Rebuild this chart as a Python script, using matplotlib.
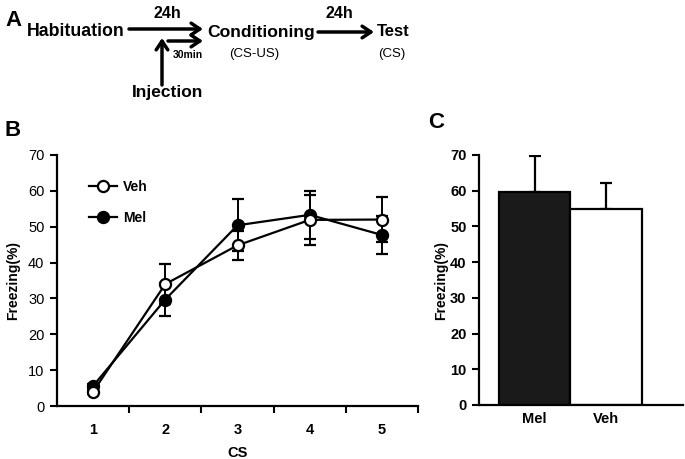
import matplotlib.pyplot as plt
from matplotlib.patches import FancyArrowPatch
from matplotlib.lines import Line2D
import numpy as np

plt.rcParams['font.family'] = ['Liberation Sans', 'DejaVu Sans']

# panel B data
cs = [1, 2, 3, 4, 5]
veh = [4.0, 34.0, 44.8, 51.9, 52.0]
veh_err = [0.6, 5.5, 4.1, 7.0, 6.2]
mel = [5.6, 29.7, 50.4, 53.3, 47.7]
mel_err = [0.6, 4.6, 7.2, 6.7, 5.4]

# panel C data
groups = ["Mel", "Veh"]
test_vals = [59.7, 54.9]
test_err = [10.0, 7.3]
bar_colors = ["#1a1a1a", "white"]

fig = plt.figure(figsize=(6.85, 4.59), dpi=100)
W, H = 685.0, 459.0

def fx(x):
    return x / W

def fy(y):
    return 1 - y / H

# ---- panel A: timeline ----
fig.text(fx(5), fy(20), "A", fontsize=16, fontweight='bold', va='center', ha='left')
fig.text(fx(27), fy(32), "Habituation", fontsize=12.8, fontweight='bold', va='center', ha='left')
fig.text(fx(167), fy(13), "24h", fontsize=11.5, fontweight='bold', va='center', ha='center')
fig.text(fx(207), fy(32), "Conditioning", fontsize=12.6, fontweight='bold', va='center', ha='left')
fig.text(fx(254), fy(54), "(CS-US)", fontsize=9.5, va='center', ha='center')
fig.text(fx(339), fy(13), "24h", fontsize=11.5, fontweight='bold', va='center', ha='center')
fig.text(fx(377), fy(32), "Test", fontsize=12, fontweight='bold', va='center', ha='left')
fig.text(fx(392), fy(54), "(CS)", fontsize=9.5, va='center', ha='center')
fig.text(fx(188), fy(55), "30min", fontsize=7.5, fontweight='bold', va='center', ha='center')
fig.text(fx(168), fy(93), "Injection", fontsize=12.5, fontweight='bold', va='center', ha='center')

arrow = dict(arrowstyle='->,head_length=0.45,head_width=0.3', lw=2.5, color='black',
             shrinkA=0, shrinkB=0, mutation_scale=14, transform=fig.transFigure)
fig.add_artist(FancyArrowPatch((fx(129), fy(29)), (fx(203), fy(29)), **arrow))
fig.add_artist(FancyArrowPatch((fx(168), fy(41)), (fx(203), fy(41)), **arrow))
fig.add_artist(FancyArrowPatch((fx(162), fy(85)), (fx(162), fy(38)), **arrow))
fig.add_artist(FancyArrowPatch((fx(318), fy(32)), (fx(374), fy(32)), **arrow))

# ---- panel B ----
axB = fig.add_axes([fx(57), fy(406), fx(418) - fx(57), fy(155) - fy(406)])
axB.errorbar(cs, veh, yerr=veh_err, color='black', lw=1.6, capsize=4, capthick=1.5,
             elinewidth=1.4, marker='o', ms=8, mfc='white', mec='black', mew=1.6,
             zorder=3)
axB.errorbar(cs, mel, yerr=mel_err, color='black', lw=1.6, capsize=4, capthick=1.5,
             elinewidth=1.4, marker='o', ms=8, mfc='black', mec='black', mew=1.6,
             zorder=2)
axB.set_xlim(0.5, 5.5)
axB.set_ylim(0, 70)
axB.set_yticks(np.arange(0, 71, 10))
axB.set_xticks(cs)
axB.set_xticks([1.5, 2.5, 3.5, 4.5, 5.5], minor=True)
axB.tick_params(axis='x', which='major', length=0, pad=12, labelsize=10.5)
axB.tick_params(axis='x', which='minor', length=5, width=1.5, direction='out')
axB.tick_params(axis='y', length=5, width=1.5, direction='out', labelsize=10.5, pad=4)
for lab in axB.get_xticklabels():
    lab.set_fontweight('bold')
for s in ['top', 'right']:
    axB.spines[s].set_visible(False)
for s in ['left', 'bottom']:
    axB.spines[s].set_linewidth(1.6)
axB.set_xlabel("CS", fontsize=10.5, fontweight='bold', labelpad=7)
axB.set_ylabel("Freezing(%)", fontsize=10, fontweight='bold', labelpad=6)
handles = [
    Line2D([], [], color='black', lw=1.6, marker='o', ms=8, mfc='white', mec='black', mew=1.6),
    Line2D([], [], color='black', lw=1.6, marker='o', ms=8, mfc='black', mec='black', mew=1.6),
]
axB.legend(handles, ['Veh', 'Mel'], loc='upper left', bbox_to_anchor=(0.055, 0.95),
           frameon=False, prop={'weight': 'bold', 'size': 10}, handlelength=2.0,
           labelspacing=1.2, handletextpad=0.4)
fig.text(fx(5), fy(130), "B", fontsize=16, fontweight='bold', va='center', ha='left')

# ---- panel C ----
axC = fig.add_axes([fx(479), fy(405), fx(683) - fx(479), fy(155) - fy(405)])
xpos = np.arange(len(groups))
axC.bar(xpos, test_vals, width=1.0, color=bar_colors, edgecolor='black', linewidth=1.6,
        zorder=2)
axC.errorbar(xpos, test_vals, yerr=[[0, 0], test_err], fmt='none', ecolor='black',
             elinewidth=1.6, capsize=4, capthick=1.6, zorder=1)
axC.set_xlim(-0.78, 2.08)
axC.set_ylim(0, 70)
axC.set_yticks(np.arange(0, 71, 10))
axC.set_xticks(xpos)
axC.set_xticklabels(groups)
axC.tick_params(axis='x', length=0, pad=5, labelsize=10.5)
axC.tick_params(axis='y', length=5, width=1.5, direction='out', labelsize=10.5, pad=4)
for lab in axC.get_xticklabels() + axC.get_yticklabels():
    lab.set_fontweight('bold')
for s in ['top', 'right']:
    axC.spines[s].set_visible(False)
for s in ['left', 'bottom']:
    axC.spines[s].set_linewidth(1.6)
axC.set_ylabel("Freezing(%)", fontsize=10, fontweight='bold', labelpad=1)
fig.text(fx(428), fy(123), "C", fontsize=16, fontweight='bold', va='center', ha='left')

fig.savefig("out.png", dpi=100)
